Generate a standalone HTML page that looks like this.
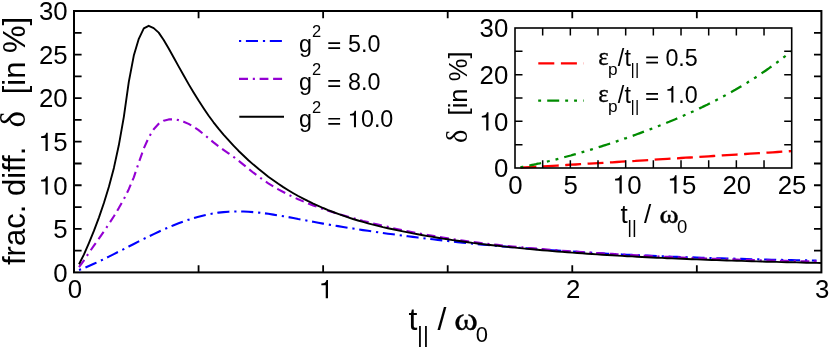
<!DOCTYPE html>
<html><head><meta charset="utf-8"><title>plot</title>
<style>html,body{margin:0;padding:0;background:#fff;}svg{display:block;will-change:transform;}</style></head>
<body>
<svg width="830" height="348" viewBox="0 0 830 348">
<rect width="830" height="348" fill="#fff"/>
<g fill="none" stroke-width="1.9" stroke-linejoin="round">
<path d="M79.0 270.0 L84.0 268.2 L88.9 266.0 L93.9 263.8 L98.9 261.5 L103.9 259.1 L108.9 256.6 L113.9 254.1 L118.8 251.6 L123.8 249.1 L128.8 246.5 L133.8 244.0 L138.8 241.4 L143.8 238.9 L148.7 236.5 L153.7 234.1 L158.7 231.7 L163.7 229.5 L168.7 227.3 L173.7 225.2 L178.6 223.3 L183.6 221.4 L188.6 219.7 L193.6 218.1 L198.6 216.7 L203.6 215.4 L208.5 214.3 L213.5 213.4 L218.5 212.6 L223.5 212.1 L228.5 211.7 L233.5 211.5 L238.4 211.4 L243.4 211.5 L248.4 211.7 L253.4 212.1 L258.4 212.6 L263.4 213.2 L268.3 213.8 L273.3 214.6 L278.3 215.4 L283.3 216.2 L288.3 217.1 L293.3 218.0 L298.2 219.0 L303.2 219.9 L308.2 220.9 L313.2 221.8 L318.2 222.7 L323.1 223.6 L328.1 224.5 L333.1 225.3 L338.1 226.1 L343.1 227.0 L348.1 227.8 L353.0 228.5 L358.0 229.3 L363.0 230.1 L368.0 230.8 L373.0 231.5 L378.0 232.3 L382.9 233.0 L387.9 233.7 L392.9 234.3 L397.9 235.0 L402.9 235.6 L407.9 236.3 L412.8 236.9 L417.8 237.5 L422.8 238.1 L427.8 238.7 L432.8 239.3 L437.8 239.9 L442.7 240.4 L447.7 241.0 L452.7 241.5 L457.7 242.1 L462.7 242.6 L467.7 243.1 L472.6 243.6 L477.6 244.1 L482.6 244.6 L487.6 245.0 L492.6 245.5 L497.6 245.9 L502.5 246.4 L507.5 246.8 L512.5 247.2 L517.5 247.6 L522.5 248.0 L527.5 248.4 L532.4 248.8 L537.4 249.2 L542.4 249.6 L547.4 249.9 L552.4 250.3 L557.4 250.6 L562.3 251.0 L567.3 251.3 L572.3 251.6 L577.3 251.9 L582.3 252.3 L587.2 252.6 L592.2 252.8 L597.2 253.1 L602.2 253.4 L607.2 253.7 L612.2 254.0 L617.1 254.2 L622.1 254.5 L627.1 254.7 L632.1 254.9 L637.1 255.2 L642.1 255.4 L647.0 255.6 L652.0 255.8 L657.0 256.1 L662.0 256.3 L667.0 256.5 L672.0 256.7 L676.9 256.9 L681.9 257.0 L686.9 257.2 L691.9 257.4 L696.9 257.6 L701.9 257.7 L706.8 257.9 L711.8 258.0 L716.8 258.2 L721.8 258.3 L726.8 258.5 L731.8 258.6 L736.7 258.8 L741.7 258.9 L746.7 259.0 L751.7 259.2 L756.7 259.3 L761.7 259.4 L766.6 259.5 L771.6 259.7 L776.6 259.8 L781.6 259.9 L786.6 260.0 L791.6 260.1 L796.5 260.2 L801.5 260.3 L806.5 260.4 L811.5 260.5 L816.5 260.6" stroke="#0000ff" stroke-width="2.1" stroke-dasharray="2.2 4.7 12.1 4.9"/>
<path d="M79.0 267.2 L84.0 260.3 L88.9 252.9 L93.9 245.7 L98.9 238.6 L103.9 231.4 L108.9 224.0 L113.9 216.3 L118.8 208.1 L123.8 199.2 L128.8 189.2 L133.8 177.3 L138.8 162.6 L143.8 148.5 L148.7 137.5 L153.7 129.3 L158.7 123.8 L163.7 120.7 L168.7 119.4 L173.7 119.3 L178.6 120.1 L183.6 121.7 L188.6 123.9 L193.6 126.7 L198.6 130.1 L203.6 134.1 L208.5 138.2 L213.5 142.4 L218.5 146.2 L223.5 149.8 L228.5 153.3 L233.5 156.8 L238.4 160.6 L243.4 164.6 L248.4 168.7 L253.4 172.7 L258.4 176.5 L263.4 180.0 L268.3 183.3 L273.3 186.4 L278.3 189.3 L283.3 192.0 L288.3 194.6 L293.3 197.0 L298.2 199.3 L303.2 201.4 L308.2 203.5 L313.2 205.4 L318.2 207.3 L323.1 209.0 L328.1 210.7 L333.1 212.3 L338.1 213.9 L343.1 215.3 L348.1 216.8 L353.0 218.2 L358.0 219.5 L363.0 220.9 L368.0 222.1 L373.0 223.4 L378.0 224.6 L382.9 225.8 L387.9 226.9 L392.9 228.1 L397.9 229.2 L402.9 230.2 L407.9 231.2 L412.8 232.2 L417.8 233.2 L422.8 234.1 L427.8 235.0 L432.8 235.9 L437.8 236.8 L442.7 237.6 L447.7 238.4 L452.7 239.2 L457.7 239.9 L462.7 240.6 L467.7 241.3 L472.6 242.0 L477.6 242.6 L482.6 243.2 L487.6 243.8 L492.6 244.4 L497.6 244.9 L502.5 245.5 L507.5 246.0 L512.5 246.5 L517.5 247.0 L522.5 247.4 L527.5 247.9 L532.4 248.3 L537.4 248.7 L542.4 249.1 L547.4 249.5 L552.4 249.9 L557.4 250.3 L562.3 250.7 L567.3 251.0 L572.3 251.4 L577.3 251.7 L582.3 252.0 L587.2 252.4 L592.2 252.7 L597.2 253.0 L602.2 253.3 L607.2 253.6 L612.2 253.9 L617.1 254.2 L622.1 254.5 L627.1 254.8 L632.1 255.1 L637.1 255.3 L642.1 255.6 L647.0 255.9 L652.0 256.1 L657.0 256.4 L662.0 256.6 L667.0 256.8 L672.0 257.1 L676.9 257.3 L681.9 257.5 L686.9 257.7 L691.9 258.0 L696.9 258.2 L701.9 258.4 L706.8 258.5 L711.8 258.7 L716.8 258.9 L721.8 259.1 L726.8 259.3 L731.8 259.4 L736.7 259.6 L741.7 259.7 L746.7 259.9 L751.7 260.0 L756.7 260.2 L761.7 260.3 L766.6 260.4 L771.6 260.5 L776.6 260.7 L781.6 260.8 L786.6 260.9 L791.6 261.0 L796.5 261.1 L801.5 261.2 L806.5 261.2 L811.5 261.3 L816.5 261.4" stroke="#9400d3" stroke-width="2.1" stroke-dasharray="9 4.8 2.1 4.7 8.8 4.7"/>
<path d="M79.0 264.2 L84.0 254.4 L88.9 243.1 L93.9 230.9 L98.9 217.6 L103.9 203.0 L108.9 186.7 L113.9 167.9 L118.8 145.3 L123.8 117.1 L128.8 81.9 L133.8 55.6 L138.8 38.8 L143.8 28.4 L148.7 25.8 L153.7 28.1 L158.7 32.6 L163.7 40.0 L168.7 48.6 L173.7 57.5 L178.6 66.4 L183.6 75.3 L188.6 84.1 L193.6 92.5 L198.6 100.6 L203.6 108.3 L208.5 115.5 L213.5 122.3 L218.5 128.6 L223.5 134.6 L228.5 140.2 L233.5 145.6 L238.4 150.7 L243.4 155.5 L248.4 160.2 L253.4 164.6 L258.4 168.8 L263.4 172.8 L268.3 176.7 L273.3 180.3 L278.3 183.8 L283.3 187.1 L288.3 190.2 L293.3 193.2 L298.2 196.0 L303.2 198.6 L308.2 201.2 L313.2 203.6 L318.2 205.8 L323.1 208.0 L328.1 210.1 L333.1 212.0 L338.1 213.9 L343.1 215.7 L348.1 217.3 L353.0 219.0 L358.0 220.5 L363.0 221.9 L368.0 223.3 L373.0 224.6 L378.0 225.9 L382.9 227.1 L387.9 228.2 L392.9 229.3 L397.9 230.4 L402.9 231.4 L407.9 232.4 L412.8 233.4 L417.8 234.3 L422.8 235.2 L427.8 236.1 L432.8 236.9 L437.8 237.8 L442.7 238.6 L447.7 239.3 L452.7 240.1 L457.7 240.8 L462.7 241.5 L467.7 242.2 L472.6 242.9 L477.6 243.5 L482.6 244.1 L487.6 244.7 L492.6 245.3 L497.6 245.8 L502.5 246.4 L507.5 246.9 L512.5 247.4 L517.5 247.9 L522.5 248.4 L527.5 248.9 L532.4 249.3 L537.4 249.8 L542.4 250.2 L547.4 250.6 L552.4 251.1 L557.4 251.5 L562.3 251.9 L567.3 252.2 L572.3 252.6 L577.3 253.0 L582.3 253.3 L587.2 253.7 L592.2 254.0 L597.2 254.4 L602.2 254.7 L607.2 255.0 L612.2 255.3 L617.1 255.6 L622.1 255.9 L627.1 256.2 L632.1 256.4 L637.1 256.7 L642.1 257.0 L647.0 257.2 L652.0 257.5 L657.0 257.7 L662.0 257.9 L667.0 258.2 L672.0 258.4 L676.9 258.6 L681.9 258.8 L686.9 259.0 L691.9 259.2 L696.9 259.4 L701.9 259.6 L706.8 259.8 L711.8 260.0 L716.8 260.1 L721.8 260.3 L726.8 260.5 L731.8 260.6 L736.7 260.8 L741.7 260.9 L746.7 261.1 L751.7 261.2 L756.7 261.4 L761.7 261.5 L766.6 261.7 L771.6 261.8 L776.6 261.9 L781.6 262.1 L786.6 262.2 L791.6 262.3 L796.5 262.4 L801.5 262.5 L806.5 262.7 L811.5 262.8 L816.5 262.9 L821.4 263.0" stroke="#000"/>
</g>
<g stroke="#000" fill="none">
<rect x="74" y="11" width="747.4" height="261.4" stroke-width="2"/>
<path d="M198.57 272.4 v-7.2 M198.57 11 v7.2 M323.13 272.4 v-7.2 M323.13 11 v7.2 M447.70 272.4 v-7.2 M447.70 11 v7.2 M572.27 272.4 v-7.2 M572.27 11 v7.2 M696.83 272.4 v-7.2 M696.83 11 v7.2 M74 250.62 h7.6 M821.4 250.62 h-7.4 M74 228.83 h7.6 M821.4 228.83 h-7.4 M74 207.05 h7.6 M821.4 207.05 h-7.4 M74 185.27 h7.6 M821.4 185.27 h-7.4 M74 163.48 h7.6 M821.4 163.48 h-7.4 M74 141.70 h7.6 M821.4 141.70 h-7.4 M74 119.92 h7.6 M821.4 119.92 h-7.4 M74 98.13 h7.6 M821.4 98.13 h-7.4 M74 76.35 h7.6 M821.4 76.35 h-7.4 M74 54.57 h7.6 M821.4 54.57 h-7.4 M74 32.78 h7.6 M821.4 32.78 h-7.4" stroke-width="1.8"/>
</g>
<rect x="515" y="28" width="276.7" height="140" fill="#fff" stroke="none"/>
<g fill="none" stroke-width="2">
<path d="M520.5 167.7 L525.1 167.4 L529.7 167.2 L534.3 166.9 L538.9 166.6 L543.5 166.4 L548.0 166.1 L552.6 165.8 L557.2 165.6 L561.8 165.3 L566.4 165.0 L571.0 164.7 L575.6 164.5 L580.2 164.2 L584.8 163.9 L589.4 163.6 L593.9 163.4 L598.5 163.1 L603.1 162.8 L607.7 162.5 L612.3 162.3 L616.9 162.0 L621.5 161.7 L626.1 161.4 L630.7 161.1 L635.3 160.9 L639.8 160.6 L644.4 160.3 L649.0 160.0 L653.6 159.7 L658.2 159.4 L662.8 159.2 L667.4 158.9 L672.0 158.6 L676.6 158.3 L681.2 158.0 L685.7 157.7 L690.3 157.5 L694.9 157.2 L699.5 156.9 L704.1 156.6 L708.7 156.3 L713.3 156.0 L717.9 155.7 L722.5 155.4 L727.0 155.2 L731.6 154.9 L736.2 154.6 L740.8 154.3 L745.4 154.0 L750.0 153.7 L754.6 153.4 L759.2 153.1 L763.8 152.8 L768.4 152.6 L772.9 152.3 L777.5 152.0 L782.1 151.7 L786.7 151.4 L791.3 151.1" stroke="#ff0000" stroke-width="2.3" stroke-dasharray="15.9 6.5"/>
<path d="M520.5 167.4 L522.4 167.0 L524.4 166.6 L526.3 166.2 L528.2 165.8 L530.2 165.4 L532.1 165.0 L534.0 164.6 L536.0 164.2 L537.9 163.7 L539.8 163.3 L541.8 162.8 L543.7 162.4 L545.7 161.9 L547.6 161.5 L549.5 161.0 L551.5 160.5 L553.4 160.0 L555.3 159.6 L557.2 159.1 L559.2 158.6 L561.1 158.1 L563.0 157.6 L565.0 157.0 L566.9 156.5 L568.8 156.0 L570.8 155.5 L572.7 154.9 L574.6 154.4 L576.5 153.9 L578.5 153.3 L580.4 152.8 L582.3 152.2 L584.2 151.6 L586.2 151.1 L588.1 150.5 L590.0 149.9 L591.9 149.3 L593.8 148.7 L595.7 148.1 L597.7 147.5 L599.6 146.9 L601.5 146.3 L603.4 145.7 L605.3 145.1 L607.2 144.5 L609.1 143.9 L611.0 143.2 L612.9 142.6 L614.8 142.0 L616.7 141.3 L618.6 140.7 L620.5 140.0 L622.4 139.4 L624.3 138.7 L626.2 138.1 L628.1 137.4 L630.0 136.7 L631.9 136.1 L633.8 135.4 L635.6 134.7 L637.5 134.0 L639.4 133.3 L641.3 132.6 L643.2 131.9 L645.0 131.2 L646.9 130.5 L648.8 129.8 L650.6 129.1 L652.5 128.4 L654.4 127.7 L656.2 127.0 L658.1 126.2 L659.9 125.5 L661.8 124.8 L663.7 124.0 L665.5 123.3 L667.3 122.5 L669.2 121.8 L671.0 121.0 L672.9 120.2 L674.7 119.5 L676.5 118.7 L678.4 117.9 L680.2 117.1 L682.0 116.3 L683.8 115.5 L685.7 114.7 L687.5 113.9 L689.3 113.1 L691.1 112.3 L692.9 111.5 L694.7 110.6 L696.5 109.8 L698.3 109.0 L700.1 108.1 L701.9 107.3 L703.7 106.4 L705.5 105.5 L707.2 104.7 L709.0 103.8 L710.8 102.9 L712.6 102.0 L714.3 101.1 L716.1 100.2 L717.9 99.3 L719.6 98.4 L721.4 97.4 L723.1 96.5 L724.9 95.6 L726.6 94.6 L728.3 93.7 L730.1 92.7 L731.8 91.7 L733.5 90.8 L735.3 89.8 L737.0 88.8 L738.7 87.8 L740.4 86.8 L742.1 85.8 L743.8 84.7 L745.5 83.7 L747.2 82.7 L748.9 81.6 L750.6 80.6 L752.3 79.5 L753.9 78.4 L755.6 77.4 L757.3 76.3 L758.9 75.2 L760.6 74.1 L762.2 72.9 L763.9 71.8 L765.5 70.7 L767.2 69.5 L768.8 68.4 L770.4 67.2 L772.1 66.1 L773.7 64.9 L775.3 63.7 L776.9 62.5 L778.5 61.3 L780.1 60.1 L781.7 58.9 L783.3 57.6 L784.9 56.4 L786.5 55.1 L788.1 53.9 L789.6 52.6 L791.2 51.3" stroke="#008b00" stroke-width="2.3" stroke-dasharray="2.9 6.1 12 6 2.9 6"/>
</g>
<g stroke="#000" fill="none">
<rect x="515" y="28" width="276.7" height="140" stroke-width="1.6"/>
<path d="M542.67 168 v-7.7 M542.67 28 v7.5 M570.34 168 v-7.7 M570.34 28 v7.5 M598.01 168 v-7.7 M598.01 28 v7.5 M625.68 168 v-7.7 M625.68 28 v7.5 M653.35 168 v-7.7 M653.35 28 v7.5 M681.02 168 v-7.7 M681.02 28 v7.5 M708.69 168 v-7.7 M708.69 28 v7.5 M736.36 168 v-7.7 M736.36 28 v7.5 M764.03 168 v-7.7 M764.03 28 v7.5 M515 144.67 h7.5 M791.7 144.67 h-7.5 M515 121.33 h7.5 M791.7 121.33 h-7.5 M515 98.00 h7.5 M791.7 98.00 h-7.5 M515 74.67 h7.5 M791.7 74.67 h-7.5 M515 51.33 h7.5 M791.7 51.33 h-7.5" stroke-width="1.5"/>
</g>
<g fill="none">
<path d="M239 41 H282.1" stroke="#0000ff" stroke-width="2.1" stroke-dasharray="2.2 4.7 12.1 4.9" />
<path d="M239 78.85 H282.1" stroke="#9400d3" stroke-width="2.1" stroke-dasharray="9 4.8 2.1 4.7 8.8 4.7"/>
<path d="M239.3 116.7 H284" stroke="#000" stroke-width="1.9"/>
<path d="M538.3 63.4 H583.7" stroke="#ff0000" stroke-width="2.3" stroke-dasharray="16 6.6"/>
<path d="M538.2 100.6 H583.7" stroke="#008b00" stroke-width="2.3" stroke-dasharray="2.9 6.1 12 6 2.9 6"/>
</g>
<g font-family="'Liberation Sans', sans-serif" fill="#000">
<text x="53.26" y="281.64" font-size="25.8">0</text>
<text x="53.26" y="238.07" font-size="25.8">5</text>
<path transform="translate(38.91 194.50) scale(25.800 -25.800)" d="M.343 0 L.343 .709 L.285 .709 C.27 .62 .205 .572 .085 .568 L.085 .505 L.255 .505 L.255 0 Z"/>
<text x="53.26" y="194.50" font-size="25.8">0</text>
<path transform="translate(38.91 150.94) scale(25.800 -25.800)" d="M.343 0 L.343 .709 L.285 .709 C.27 .62 .205 .572 .085 .568 L.085 .505 L.255 .505 L.255 0 Z"/>
<text x="53.26" y="150.94" font-size="25.8">5</text>
<text x="38.91" y="107.37" font-size="25.8">20</text>
<text x="38.91" y="63.80" font-size="25.8">25</text>
<text x="38.91" y="20.24" font-size="25.8">30</text>
<text x="67.63" y="298.20" font-size="25.8">0</text>
<path transform="translate(319.15 298.20) scale(25.800 -25.800)" d="M.343 0 L.343 .709 L.285 .709 C.27 .62 .205 .572 .085 .568 L.085 .505 L.255 .505 L.255 0 Z"/>
<text x="565.89" y="298.20" font-size="25.8">2</text>
<text x="815.03" y="298.20" font-size="25.8">3</text>
<text x="493.96" y="177.24" font-size="25.8">0</text>
<path transform="translate(479.61 130.57) scale(25.800 -25.800)" d="M.343 0 L.343 .709 L.285 .709 C.27 .62 .205 .572 .085 .568 L.085 .505 L.255 .505 L.255 0 Z"/>
<text x="493.96" y="130.57" font-size="25.8">0</text>
<text x="479.61" y="83.90" font-size="25.8">20</text>
<text x="479.61" y="37.24" font-size="25.8">30</text>
<text x="508.23" y="193.50" font-size="25.8">0</text>
<text x="563.57" y="193.50" font-size="25.8">5</text>
<path transform="translate(612.90 193.50) scale(25.800 -25.800)" d="M.343 0 L.343 .709 L.285 .709 C.27 .62 .205 .572 .085 .568 L.085 .505 L.255 .505 L.255 0 Z"/>
<text x="627.24" y="193.50" font-size="25.8">0</text>
<path transform="translate(667.70 193.50) scale(25.800 -25.800)" d="M.343 0 L.343 .709 L.285 .709 C.27 .62 .205 .572 .085 .568 L.085 .505 L.255 .505 L.255 0 Z"/>
<text x="682.04" y="193.50" font-size="25.8">5</text>
<text x="722.42" y="193.50" font-size="25.8">20</text>
<text x="777.76" y="193.50" font-size="25.8">25</text>
<text x="299" y="51.6" font-size="23.3">g<tspan font-size="16.5" dy="-14.2">2</tspan></text>
<path d="M328.31 49.04 h11.79 v-1.70 h-11.79 z M328.31 43.91 h11.79 v-1.70 h-11.79 z"/>
<text x="348.00" y="51.60" font-size="23.3">5.0</text>
<text x="299" y="89.5" font-size="23.3">g<tspan font-size="16.5" dy="-14.2">2</tspan></text>
<path d="M328.31 86.94 h11.79 v-1.70 h-11.79 z M328.31 81.81 h11.79 v-1.70 h-11.79 z"/>
<text x="348.00" y="89.50" font-size="23.3">8.0</text>
<text x="299" y="127.3" font-size="23.3">g<tspan font-size="16.5" dy="-14.2">2</tspan></text>
<path d="M328.31 124.74 h11.79 v-1.70 h-11.79 z M328.31 119.61 h11.79 v-1.70 h-11.79 z"/>
<path transform="translate(348.00 127.30) scale(23.300 -23.300)" d="M.343 0 L.343 .709 L.285 .709 C.27 .62 .205 .572 .085 .568 L.085 .505 L.255 .505 L.255 0 Z"/>
<text x="360.95" y="127.30" font-size="23.3">0.0</text>
<text x="598.2" y="65.4" font-size="24.7" font-family="'Liberation Serif', serif" stroke="#000" stroke-width="0.35">ε</text>
<text x="608" y="75.2" font-size="17.2" >p</text>
<text x="617.8" y="66" font-size="23.3" >/</text>
<text x="624.4" y="66" font-size="23.3" >t</text>
<text x="630.6" y="75" font-size="16.5" >||</text>
<path d="M646.21 63.44 h11.79 v-1.70 h-11.79 z M646.21 58.31 h11.79 v-1.70 h-11.79 z"/>
<text x="665.40" y="66.00" font-size="23.3">0.5</text>
<text x="598.2" y="101.9" font-size="24.7" font-family="'Liberation Serif', serif" stroke="#000" stroke-width="0.35">ε</text>
<text x="608" y="111.7" font-size="17.2" >p</text>
<text x="617.8" y="102.5" font-size="23.3" >/</text>
<text x="624.4" y="102.5" font-size="23.3" >t</text>
<text x="630.6" y="111.5" font-size="16.5" >||</text>
<path d="M646.21 99.94 h11.79 v-1.70 h-11.79 z M646.21 94.81 h11.79 v-1.70 h-11.79 z"/>
<path transform="translate(665.40 102.50) scale(23.300 -23.300)" d="M.343 0 L.343 .709 L.285 .709 C.27 .62 .205 .572 .085 .568 L.085 .505 L.255 .505 L.255 0 Z"/>
<text x="678.35" y="102.50" font-size="23.3">.0</text>
<text x="408.5" y="330" font-size="32" >t</text>
<text x="417" y="341.7" font-size="22.7" >||</text>
<text x="437.4" y="330" font-size="32" >/</text>
<text transform="translate(466 330) scale(1.12 1)" font-size="32" text-anchor="middle" font-family="'Liberation Serif', serif" stroke="#000" stroke-width="0.4">ω</text>
<text x="475.7" y="341.7" font-size="22" >0</text>
<text x="620.6" y="222.5" font-size="26" >t</text>
<text x="627.2" y="233" font-size="18.5" >||</text>
<text x="644" y="222.5" font-size="26" >/</text>
<text transform="translate(669.2 222.5) scale(1.12 1)" font-size="26" text-anchor="middle" font-family="'Liberation Serif', serif" stroke="#000" stroke-width="0.4">ω</text>
<text x="677" y="233" font-size="18.5" >0</text>
<text transform="translate(25 265) rotate(-90)" font-size="31" xml:space="preserve">frac. diff.  <tspan font-family="'Liberation Serif', serif" font-size="35" dx="2">δ</tspan><tspan dx="-0.6">  [in %]</tspan></text>
<text transform="translate(467 143.1) rotate(-90)" font-size="25.6" xml:space="preserve"><tspan font-family="'Liberation Serif', serif" font-size="28.5">δ</tspan><tspan dx="0">  [in %]</tspan></text>
</g>
</svg>
</body></html>
